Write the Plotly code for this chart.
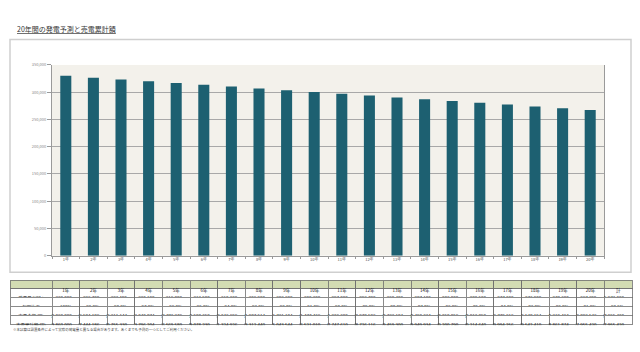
import plotly.graph_objects as go

years = ["1年", "2年", "3年", "4年", "5年", "6年", "7年", "8年", "9年", "10年",
         "11年", "12年", "13年", "14年", "15年", "16年", "17年", "18年", "19年", "20年"]
kwh = [330000, 326700, 323400, 320100, 316800, 313500, 310200, 306900, 303600, 300300,
       297000, 293700, 290400, 287100, 283800, 280500, 277200, 273900, 270600, 267300]
ratio = ["100%", "99.0%", "98.0%", "97.0%", "96.0%", "95.0%", "94.0%", "93.0%", "92.0%", "91.0%",
         "90.0%", "89.0%", "88.0%", "87.0%", "86.0%", "85.0%", "84.0%", "83.0%", "82.0%", "81.0%"]
revenue = [13860000, 13584186, 13311144, 13040874, 12773376, 12508650, 12246696, 11987514,
           11731104, 11477466, 11226600, 10978506, 10733184, 10490634, 10250856, 10013850,
           9779616, 9548154, 9319464, 9093546]
cumulative = [13860000, 27444186, 40755330, 53796204, 66569580, 79078230, 91324926, 103312440,
              115043544, 126521010, 137747610, 148726116, 159459300, 169949934, 180200790,
              190214640, 199994256, 209542410, 218861874, 227955420]
total_label = "計"
total_kwh = 5973000
total_ratio = "90.5%"
total_revenue = 227955420
total_cumulative = 227955420
row_labels = ["発電量(kWh)", "年間比率", "売電金額(円)", "売電累計額(円)"]
y_ticks = [0, 50000, 100000, 150000, 200000, 250000, 300000, 350000]
title_text = "20年間の発電予測と売電累計額"
note_text = "※本試算は設置条件によって実際の発電量と異なる場合があります。あくまでも予測の一つとしてご利用ください。"

W, H = 640, 352
FONT = "Noto Sans CJK JP"

def px_x(x):
    return x / W

def px_y(y):
    return 1 - y / H

fig = go.Figure()

fig.add_trace(go.Bar(
    x=years, y=kwh, marker=dict(color="#1d6071", line=dict(width=0)),
    xaxis="x", yaxis="y", showlegend=False, hoverinfo="x+y"
))

# table
header_vals = [""] + years + [total_label]
cols = [row_labels]
for i in range(len(years)):
    cols.append([f"{kwh[i]:,}", ratio[i], f"{revenue[i]:,}", f"{cumulative[i]:,}"])
cols.append([f"{total_kwh:,}", total_ratio, f"{total_revenue:,}", f"{total_cumulative:,}"])

fig.add_trace(go.Table(
    domain=dict(x=[px_x(10), px_x(632)], y=[px_y(327), px_y(281)]),
    columnwidth=[42] + [27.6] * 21,
    header=dict(values=header_vals, fill_color="#d3dcb3", line=dict(color="#6e6e6e", width=0.8),
                align="center", height=8, font=dict(family=FONT, size=4.5, color="#111111")),
    cells=dict(values=cols, fill_color="white", line=dict(color="#6e6e6e", width=0.8),
               align=["center"] + ["right"] * 21, height=9,
               font=dict(family=FONT, size=4.5, color="#111111")),
))

fig.update_layout(
    width=W, height=H, margin=dict(l=0, r=0, t=0, b=0),
    paper_bgcolor="white", plot_bgcolor="#f3f1eb",
    bargap=0.6,
    xaxis=dict(domain=[px_x(52), px_x(604)], anchor="y", showgrid=False,
               tickfont=dict(family=FONT, size=4, color="#555555"),
               showline=True, linecolor="#9a9a9a", linewidth=1,
               ticks="outside", ticklen=2, tickcolor="#9a9a9a", tickson="boundaries",
               fixedrange=True),
    yaxis=dict(domain=[px_y(256), px_y(62)], anchor="x", range=[0, 350000],
               tickvals=y_ticks, ticktext=[f"{v:,}" for v in y_ticks],
               tickfont=dict(family=FONT, size=4, color="#888888"),
               showgrid=True, gridcolor="#a8a8a8", gridwidth=0.6,
               showline=True, linecolor="#9a9a9a", linewidth=1, mirror=True,
               ticks="outside", ticklen=4, tickcolor="#9a9a9a", zeroline=False,
               fixedrange=True),
    shapes=[
        dict(type="rect", xref="paper", yref="paper",
             x0=px_x(10), x1=px_x(631), y0=px_y(273), y1=px_y(36),
             line=dict(color="#cfcfcf", width=1.5), fillcolor="rgba(0,0,0,0)", layer="below"),
    ],
    annotations=[
        dict(text=f"<u>{title_text}</u>", xref="paper", yref="paper",
             x=px_x(15), y=px_y(25), xanchor="left", yanchor="middle", showarrow=False,
             font=dict(family=FONT, size=7, color="#333333")),
        dict(text=note_text, xref="paper", yref="paper",
             x=px_x(11), y=px_y(331), xanchor="left", yanchor="middle", showarrow=False,
             font=dict(family=FONT, size=3.5, color="#444444")),
    ],
)

fig.write_html("out.html")
